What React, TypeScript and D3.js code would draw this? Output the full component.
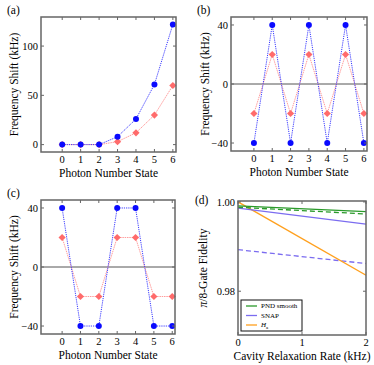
import React from 'react'
import * as d3 from 'd3'

// photon number states used on the x axis of panels (a)-(c)
const photonStates = [0, 1, 2, 3, 4, 5, 6]

// panel (a)
const aBlue = [0, 0, 0, 8, 26, 61, 122]
const aRed = [0, 0, 0, 3, 12, 30, 60]
// panel (b)
const bBlue = [-40, 40, -40, 40, -40, 40, -40]
const bRed = [-20, 20, -20, 20, -20, 20, -20]
// panel (c)
const cBlue = [40, -40, -40, 40, 40, -40, -40]
const cRed = [20, -20, -20, 20, 20, -20, -20]

// panel (d): fidelity vs cavity relaxation rate (kHz)
const relaxRates = [0, 2]
const pndSmooth = [0.9991, 0.9978]
const pndSmoothDashed = [0.9988, 0.9973]
const snap = [0.9986, 0.9950]
const snapDashed = [0.9893, 0.9862]
const hA = [1.0, 0.9836]

const FONT = 'Liberation Serif, DejaVu Serif, serif'
const FRAME = '#666'
const BLUE = '#0a0aff'
const RED = '#ff6b6b'

type Box = { left: number, right: number, top: number, bottom: number }

function Frame({ x, y, box, xTicks, yTicks, xFmt, yFmt }: any) {
  const tl = 3
  return (
    <g>
      {xTicks.map((t: number) => (
        <g key={'x' + t}>
          <line x1={x(t)} x2={x(t)} y1={box.bottom} y2={box.bottom - tl} stroke={FRAME} />
          <line x1={x(t)} x2={x(t)} y1={box.top} y2={box.top + tl} stroke={FRAME} />
          <text x={x(t)} y={box.bottom + 11} textAnchor="middle" fontSize={10.5}>{xFmt(t)}</text>
        </g>
      ))}
      {yTicks.map((t: number) => (
        <g key={'y' + t}>
          <line x1={box.left} x2={box.left + tl} y1={y(t)} y2={y(t)} stroke={FRAME} />
          <line x1={box.right} x2={box.right - tl} y1={y(t)} y2={y(t)} stroke={FRAME} />
          <text x={box.left - 3} y={y(t)} dy="0.35em" textAnchor="end" fontSize={10.5}>{yFmt(t)}</text>
        </g>
      ))}
      <rect x={box.left} y={box.top} width={box.right - box.left} height={box.bottom - box.top}
        fill="none" stroke={FRAME} strokeWidth={1.5} />
    </g>
  )
}

function ShiftPanel({ box, xDomain, yDomain, yTicks, blue, red, zeroLine, label, labelX, yLabelX }: any) {
  const x = d3.scaleLinear().domain(xDomain).range([box.left, box.right])
  const y = d3.scaleLinear().domain(yDomain).range([box.bottom, box.top])
  const line = d3.line<number>().x((_, i) => x(photonStates[i])).y(d => y(d))
  const fmt = (v: number) => (v < 0 ? '\u2212' + Math.abs(v) : String(v))
  return (
    <g>
      {zeroLine && <line x1={box.left} x2={box.right} y1={y(0)} y2={y(0)} stroke="#555" strokeWidth={1} />}
      <path d={line(red) || ''} fill="none" stroke="#ff9c9c" strokeWidth={1} strokeDasharray="1.5,0.8" />
      <path d={line(blue) || ''} fill="none" stroke="#3b3bff" strokeWidth={1} strokeDasharray="1.2,1" />
      {red.map((v: number, i: number) => (
        <path key={'r' + i} d="M0,-3.6L3.6,0L0,3.6L-3.6,0Z" fill={RED}
          transform={`translate(${x(photonStates[i])},${y(v)})`} />
      ))}
      {blue.map((v: number, i: number) => (
        <circle key={'b' + i} cx={x(photonStates[i])} cy={y(v)} r={3} fill={BLUE} />
      ))}
      <Frame x={x} y={y} box={box} xTicks={photonStates} yTicks={yTicks} xFmt={String} yFmt={fmt} />
      <text x={(box.left + box.right) / 2} y={box.bottom + 25} textAnchor="middle" fontSize={11.5}>Photon Number State</text>
      <text transform={`translate(${yLabelX},${(box.top + box.bottom) / 2}) rotate(-90)`} textAnchor="middle"
        dy="0.35em" fontSize={11.5}>Frequency Shift (kHz)</text>
      <text x={labelX} y={box.top - 3} fontSize={11.5}>{label}</text>
    </g>
  )
}

function FidelityPanel({ box }: { box: Box }) {
  const x = d3.scaleLinear().domain([0, 2]).range([box.left, box.right])
  const y = d3.scaleLinear().domain([0.9702, 1.0002]).range([box.bottom, box.top])
  const line = d3.line<number>().x((_, i) => x(relaxRates[i])).y(d => y(d))
  const series = [
    { vals: snapDashed, color: '#7b6cf0', dash: '5,3' },
    { vals: hA, color: '#ffa01e', dash: null },
    { vals: snap, color: '#7b6cf0', dash: null },
    { vals: pndSmoothDashed, color: '#2a9a2a', dash: '5,3' },
    { vals: pndSmooth, color: '#2a9a2a', dash: null },
  ]
  const legend = [
    { name: 'PND smooth', color: '#2a9a2a' },
    { name: 'SNAP', color: '#7b6cf0' },
    { name: 'Ha', color: '#ffa01e' },
  ]
  return (
    <g>
      <defs>
        <clipPath id="dclip">
          <rect x={box.left} y={box.top} width={box.right - box.left} height={box.bottom - box.top} />
        </clipPath>
      </defs>
      <g clipPath="url(#dclip)">
        {series.map((s, i) => (
          <path key={i} d={line(s.vals) || ''} fill="none" stroke={s.color} strokeWidth={1.3}
            strokeDasharray={s.dash || undefined} />
        ))}
      </g>
      <Frame x={x} y={y} box={box} xTicks={[0, 1, 2]} yTicks={[0.98, 1.0]}
        xFmt={String} yFmt={(v: number) => d3.format('.2f')(v)} />
      <g>
        <rect x={241} y={300} width={61} height={31} fill="white" stroke="#111" strokeWidth={1} />
        {legend.map((l, i) => (
          <g key={l.name} transform={`translate(0,${306 + i * 9.5})`}>
            <line x1={246} x2={257} y1={0} y2={0} stroke={l.color} strokeWidth={1.3} />
            <text x={261} y={0} dy="0.35em" fontSize={7}>
              {l.name === 'Ha'
                ? <><tspan fontStyle="italic">H</tspan><tspan fontSize={5} dy="1.5">a</tspan></>
                : l.name}
            </text>
          </g>
        ))}
      </g>
      <text x={(box.left + box.right) / 2} y={box.bottom + 25} textAnchor="middle" fontSize={11.5}>Cavity Relaxation Rate (kHz)</text>
      <text transform={`translate(203,${(box.top + box.bottom) / 2}) rotate(-90)`} textAnchor="middle"
        dy="0.35em" fontSize={11.5}><tspan fontStyle="italic">π</tspan>/8-Gate Fidelity</text>
      <text x={195} y={box.top + 3} fontSize={11.5}>(d)</text>
    </g>
  )
}

export default function App() {
  return (
    <svg width={374} height={365} fontFamily={FONT}
      style={{ position: 'absolute', left: 0, top: 0, background: 'white', fontFamily: FONT }}>
      <ShiftPanel box={{ left: 41, right: 176, top: 17, bottom: 152 }} xDomain={[-1.15, 6.17]} yDomain={[-7.5, 129.5]}
        yTicks={[0, 50, 100]} blue={aBlue} red={aRed} zeroLine={false} label="(a)" labelX={7} yLabelX={14} />
      <ShiftPanel box={{ left: 231, right: 367, top: 17, bottom: 151 }} xDomain={[-1.25, 6.17]} yDomain={[-45.4, 45.4]}
        yTicks={[-40, 0, 40]} blue={bBlue} red={bRed} zeroLine={true} label="(b)" labelX={197} yLabelX={205} />
      <ShiftPanel box={{ left: 41, right: 175, top: 200, bottom: 334 }} xDomain={[-1.15, 6.15]} yDomain={[-45.4, 45.4]}
        yTicks={[-40, 0, 40]} blue={cBlue} red={cRed} zeroLine={true} label="(c)" labelX={7} yLabelX={14} />
      <FidelityPanel box={{ left: 238, right: 366, top: 201, bottom: 335 }} />
    </svg>
  )
}
